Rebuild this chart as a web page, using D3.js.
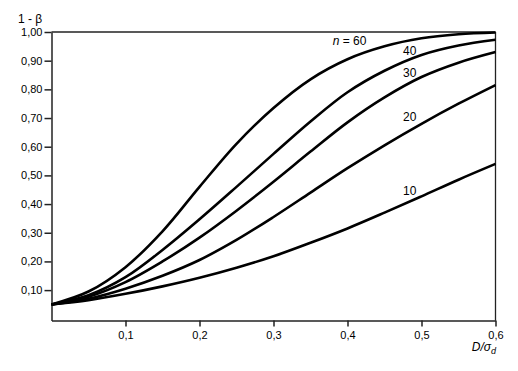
<!DOCTYPE html>
<html>
<head>
<meta charset="utf-8">
<script src="https://cdn.jsdelivr.net/npm/d3@7"></script>
<style>
  html, body { margin: 0; padding: 0; background: #fff; }
  svg { display: block; }
  text { font-family: "Liberation Sans", Arial, Helvetica, sans-serif; fill: #000; }
</style>
</head>
<body>
<svg id="chart" width="518" height="371"></svg>
<script>
// ---- Data ----
const xValues = [0, 0.05, 0.1, 0.15, 0.2, 0.25, 0.3, 0.35, 0.4, 0.45, 0.5, 0.55, 0.6];
const power10 = [0.05, 0.065, 0.087, 0.113, 0.143, 0.178, 0.218, 0.265, 0.315, 0.37, 0.427, 0.485, 0.54];
const power20 = [0.05, 0.07, 0.105, 0.15, 0.205, 0.275, 0.355, 0.44, 0.525, 0.605, 0.68, 0.75, 0.815];
const power30 = [0.05, 0.077, 0.128, 0.20, 0.283, 0.377, 0.478, 0.583, 0.685, 0.772, 0.843, 0.893, 0.93];
const power40 = [0.05, 0.082, 0.145, 0.24, 0.347, 0.46, 0.575, 0.688, 0.79, 0.865, 0.92, 0.953, 0.973];
const power60 = [0.05, 0.095, 0.18, 0.305, 0.46, 0.61, 0.735, 0.835, 0.905, 0.95, 0.978, 0.992, 0.998];
const seriesNames = ["n = 60", "40", "30", "20", "10"];
const labelX = [0.38, 0.475, 0.475, 0.475, 0.475];
const labelY = [0.955, 0.92, 0.843, 0.69, 0.432];
const xTicks = [0.1, 0.2, 0.3, 0.4, 0.5, 0.6];
const xTickLabels = ["0,1", "0,2", "0,3", "0,4", "0,5", "0,6"];
const yTicks = [0.1, 0.2, 0.3, 0.4, 0.5, 0.6, 0.7, 0.8, 0.9, 1.0];
const yTickLabels = ["0,10", "0,20", "0,30", "0,40", "0,50", "0,60", "0,70", "0,80", "0,90", "1,00"];

const seriesValues = [power60, power40, power30, power20, power10];

const svg = d3.select("#chart");
const x = d3.scaleLinear().domain([0, 0.6]).range([51.5, 495.5]);
const y = d3.scaleLinear().domain([-0.006, 1]).range([320.5, 32]);

// frame: top and right border
svg.append("line").attr("x1", x(0)).attr("x2", x(0.6)).attr("y1", y(1)).attr("y2", y(1))
  .attr("stroke", "#222").attr("stroke-width", 1.3);
svg.append("line").attr("x1", x(0.6)).attr("x2", x(0.6)).attr("y1", y(1)).attr("y2", y(-0.006))
  .attr("stroke", "#222").attr("stroke-width", 1.3);

// axes
const xAxis = d3.axisBottom(x).tickValues(xTicks).tickSize(6).tickSizeOuter(0)
  .tickFormat((d, i) => xTickLabels[i]);
const gx = svg.append("g").attr("transform", `translate(0,${y(-0.006)})`).call(xAxis);
const yAxis = d3.axisLeft(y).tickValues(yTicks).tickSize(7).tickSizeOuter(0)
  .tickFormat((d, i) => yTickLabels[i]);
const gy = svg.append("g").attr("transform", `translate(${x(0)},0)`).call(yAxis);

[gx, gy].forEach(g => {
  g.select(".domain").attr("stroke", "#222").attr("stroke-width", 1.5);
  g.selectAll(".tick line").attr("stroke", "#222").attr("stroke-width", 1.5);
  g.selectAll(".tick text").style("font-size", "11px").style("font-family", '"Liberation Sans", Arial, sans-serif')
    .attr("fill", "#000");
});
gx.selectAll(".tick text").attr("dy", "0.9em");
gy.selectAll(".tick text").attr("x", -9);

// curves
const line = d3.line().x((d, i) => x(xValues[i])).y(d => y(d)).curve(d3.curveCatmullRom.alpha(0.5));
seriesValues.forEach(vals => {
  svg.append("path").datum(vals).attr("d", line)
    .attr("fill", "none").attr("stroke", "#000").attr("stroke-width", 2.6)
    .attr("stroke-linejoin", "round");
});

// curve labels
seriesNames.forEach((name, i) => {
  const t = svg.append("text").attr("x", x(labelX[i])).attr("y", y(labelY[i]))
    .style("font-size", "12px");
  if (name.startsWith("n")) {
    t.append("tspan").style("font-style", "italic").text("n");
    t.append("tspan").text(name.slice(1));
  } else {
    t.text(name);
  }
});

// axis titles
svg.append("text").attr("x", 18).attr("y", 23).style("font-size", "12px").text("1 - β");
const xt = svg.append("text").attr("x", 496).attr("y", 351).attr("text-anchor", "end")
  .style("font-size", "12px").style("font-style", "italic");
xt.append("tspan").text("D/σ");
xt.append("tspan").attr("dy", 3).style("font-size", "9px").text("d");
</script>
</body>
</html>
